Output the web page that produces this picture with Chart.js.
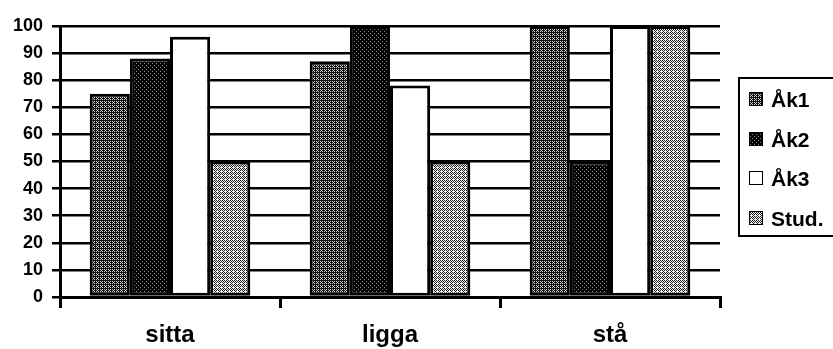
<!DOCTYPE html>
<html>
<head>
<meta charset="utf-8">
<script src="https://cdn.jsdelivr.net/npm/chart.js@4"></script>
<style>
  html,body{margin:0;padding:0;background:#fff;overflow:hidden;}
  #wrap{position:relative;width:833px;height:349px;}
  #legend{position:absolute;left:738px;top:77px;width:100px;height:160px;border:2px solid #000;box-sizing:border-box;
    font-family:"Liberation Sans",Arial,sans-serif;font-size:21px;font-weight:bold;color:#000;}
  .item{position:absolute;left:9px;height:26px;line-height:26px;white-space:nowrap;}
  .sw{display:inline-block;width:12px;height:12px;border:1px solid #000;vertical-align:middle;margin-right:8px;position:relative;top:-2px;background-repeat:repeat;}
</style>
</head>
<body>
<div id="wrap">
<canvas id="c" width="833" height="349"></canvas>
<div id="legend"></div>
</div>
<script>
const categories = ["sitta", "ligga", "stå"];
const seriesNames = ["Åk1", "Åk2", "Åk3", "Stud."];
const ak1 = [75, 87, 100];
const ak2 = [88, 100, 50];
const ak3 = [96, 78, 100];
const stud = [50, 50, 100];
const yTicks = [0, 10, 20, 30, 40, 50, 60, 70, 80, 90, 100];

const bayer = [[0,8,2,10],[12,4,14,6],[3,11,1,9],[15,7,13,5]];
function ditherCanvas(level, dark, light) {
  const c = document.createElement('canvas');
  c.width = 4; c.height = 4;
  const g = c.getContext('2d');
  for (let y = 0; y < 4; y++) for (let x = 0; x < 4; x++) {
    g.fillStyle = bayer[y][x] < level * 16 ? dark : light;
    g.fillRect(x, y, 1, 1);
  }
  return c;
}
const ctx = document.getElementById('c').getContext('2d');
const tiles = [
  ditherCanvas(0.68, '#111', '#d0d0d0'),
  ditherCanvas(0.87, '#000', '#888'),
  null,
  ditherCanvas(0.40, '#222', '#f0f0f0')
];
const fills = tiles.map(t => t ? ctx.createPattern(t, 'repeat') : '#ffffff');
const seriesData = [ak1, ak2, ak3, stud];

const legend = document.getElementById('legend');
seriesNames.forEach((n, i) => {
  const d = document.createElement('div');
  d.className = 'item';
  d.style.top = (8 + i * 39.5) + 'px';
  const sw = document.createElement('span');
  sw.className = 'sw';
  if (tiles[i]) sw.style.backgroundImage = 'url(' + tiles[i].toDataURL() + ')';
  else sw.style.background = '#fff';
  d.appendChild(sw);
  d.appendChild(document.createTextNode(n));
  legend.appendChild(d);
});

new Chart(ctx, {
  type: 'bar',
  data: {
    labels: categories,
    datasets: seriesNames.map((n, i) => ({
      label: n,
      data: seriesData[i],
      backgroundColor: fills[i],
      borderColor: '#000',
      borderWidth: 3,
      borderSkipped: false,
      categoryPercentage: 0.73,
      barPercentage: 1.0
    }))
  },
  options: {
    responsive: false,
    animation: false,
    events: [],
    layout: { padding: { top: 26, right: 113, left: 0, bottom: 0 } },
    plugins: { legend: { display: false }, tooltip: { enabled: false } },
    scales: {
      x: {
        offset: true,
        grid: { display: true, drawOnChartArea: false, drawTicks: true, tickLength: 11, color: '#000', lineWidth: 3, offset: true },
        border: { display: true, color: '#000', width: 3 },
        ticks: { color: '#000', font: { family: '"Liberation Sans", Arial, sans-serif', size: 24, weight: 'bold' }, padding: 13 },
        afterFit: s => { s.height = 52; }
      },
      y: {
        min: 0, max: 100,
        afterBuildTicks: s => { s.ticks = yTicks.map(v => ({ value: v })); },
        grid: { color: '#000', lineWidth: 2.5, tickLength: 8, drawTicks: true },
        border: { display: true, color: '#000', width: 3 },
        ticks: { color: '#000', font: { family: '"Liberation Sans", Arial, sans-serif', size: 18, weight: 'bold' }, padding: 9 },
        afterFit: s => { s.width = 60; }
      }
    }
  }
});
</script>
</body>
</html>
